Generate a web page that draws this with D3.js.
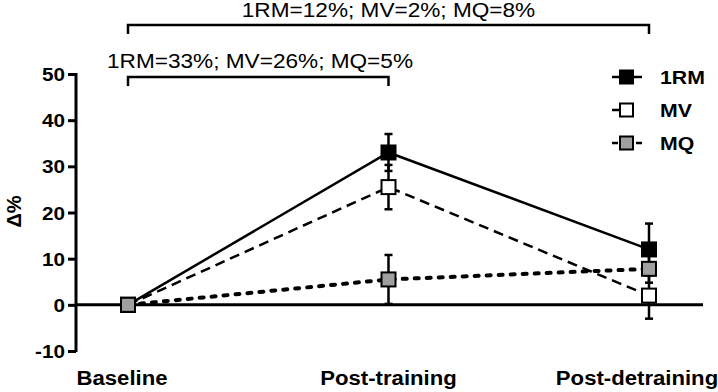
<!DOCTYPE html>
<html>
<head>
<meta charset="utf-8">
<script src="https://cdn.jsdelivr.net/npm/d3@7"></script>
<style>
  body { margin: 0; background: #fff; }
  text { font-family: "Liberation Sans", Arial, sans-serif; }
</style>
</head>
<body>
<div id="chart"></div>
<script>
/* DATA */
const timepoints = ["Baseline", "Post-training", "Post-detraining"];
const yTicks = [-10, 0, 10, 20, 30, 40, 50];
const rmMean = [0, 33, 12];
const rmSd = [0.5, 4, 5.6];
const mvMean = [0, 25.5, 2];
const mvSd = [0.5, 4.8, 5];
const mqMean = [0, 5.5, 7.8];
const mqSd = [0.8, 5.3, 3];
const bracketLabels = ["1RM=33%; MV=26%; MQ=5%", "1RM=12%; MV=2%; MQ=8%"];

const width = 718;
const height = 392;

const svg = d3.select("#chart")
    .append("svg")
    .attr("width", width)
    .attr("height", height);

// scales
const xScale = d3.scalePoint()
    .domain(timepoints)
    .range([128, 649]);

const yScale = d3.scaleLinear()
    .domain([-10, 50])
    .range([351, 74]);

// y axis
const axisX = 76;
const yAxis = d3.axisLeft(yScale).tickValues(yTicks).tickSize(8).tickPadding(3);
const gy = svg.append("g")
    .attr("transform", `translate(${axisX},0)`)
    .call(yAxis);
gy.select(".domain").attr("stroke-width", 3).attr("d", `M0,${yScale(50) - 1}V${yScale(-10) + 1}`);
gy.selectAll(".tick line").attr("stroke-width", 3);
// the original picture is stretched sideways a bit, so texts get a scaleX
gy.selectAll(".tick text").remove();
gy.selectAll(".tick").append("text")
    .attr("text-anchor", "end")
    .attr("fill", "#000")
    .style("font-size", "18px")
    .style("font-weight", "bold")
    .attr("transform", "translate(-11,6.5) scale(1.15,1)")
    .text(d => d);

// zero line
svg.append("line")
    .attr("x1", axisX).attr("x2", 703)
    .attr("y1", yScale(0)).attr("y2", yScale(0))
    .attr("stroke", "#000").attr("stroke-width", 3);

// y label
svg.append("text")
    .attr("transform", `translate(21,${yScale(20) - 1}) rotate(-90)`)
    .attr("text-anchor", "middle")
    .style("font-size", "20px")
    .style("font-weight", "bold")
    .text("Δ%");

// x labels
const xShift = [-6, 0, -12];
svg.selectAll(".xlab")
    .data(timepoints)
    .join("text")
    .attr("class", "xlab")
    .attr("text-anchor", "middle")
    .style("font-size", "20.5px")
    .style("font-weight", "bold")
    .attr("transform", (d, i) => `translate(${xScale(d) + xShift[i]},385) scale(1.08,1)`)
    .text(d => d);

// series
const series = [
    { name: "1RM", mean: rmMean, sd: rmSd, fill: "#000", dash: null, cap: "butt", w: 2.5 },
    { name: "MV", mean: mvMean, sd: mvSd, fill: "#fff", dash: "10,6", cap: "butt", w: 2.5 },
    { name: "MQ", mean: mqMean, sd: mqSd, fill: "#a0a0a0", dash: "4,8", cap: "round", w: 4 }
];

const line = d3.line()
    .x((d, i) => xScale(timepoints[i]))
    .y(d => yScale(d));

// error bars
series.forEach(s => {
    const g = svg.append("g");
    s.mean.forEach((m, i) => {
        const x = xScale(timepoints[i]);
        g.append("line")
            .attr("x1", x).attr("x2", x)
            .attr("y1", yScale(m - s.sd[i])).attr("y2", yScale(m + s.sd[i]))
            .attr("stroke", "#000").attr("stroke-width", 2.5);
        [m - s.sd[i], m + s.sd[i]].forEach(v => {
            g.append("line")
                .attr("x1", x - 4).attr("x2", x + 4)
                .attr("y1", yScale(v)).attr("y2", yScale(v))
                .attr("stroke", "#000").attr("stroke-width", 2.5);
        });
    });
});

// lines
series.forEach(s => {
    svg.append("path")
        .datum(s.mean)
        .attr("d", line)
        .attr("fill", "none")
        .attr("stroke", "#000")
        .attr("stroke-width", s.w)
        .attr("stroke-linecap", s.cap)
        .attr("stroke-dasharray", s.dash);
});

// markers (MV, 1RM, then MQ so the grey one sits on top at baseline)
[series[1], series[0], series[2]].forEach(s => {
    svg.selectAll(null)
        .data(s.mean)
        .join("rect")
        .attr("x", (d, i) => xScale(timepoints[i]) - 7)
        .attr("y", d => yScale(d) - 7)
        .attr("width", 14)
        .attr("height", 14)
        .attr("fill", s.fill)
        .attr("stroke", "#000")
        .attr("stroke-width", 2);
});

// brackets
const brackets = [
    { from: 0, to: 1, y: 77, ty: 68, label: bracketLabels[0] },
    { from: 0, to: 2, y: 25, ty: 17, label: bracketLabels[1] }
];
brackets.forEach(b => {
    const x1 = xScale(timepoints[b.from]);
    const x2 = xScale(timepoints[b.to]);
    svg.append("path")
        .attr("d", `M${x1},${b.y + 9}V${b.y}H${x2}V${b.y + 9}`)
        .attr("fill", "none")
        .attr("stroke", "#000")
        .attr("stroke-width", 2.5);
    const cx = b.from === 0 && b.to === 1 ? 260 : (x1 + x2) / 2;
    svg.append("text")
        .attr("text-anchor", "middle")
        .style("font-size", "19.5px")
        .attr("transform", `translate(${cx},${b.ty}) scale(1.16,1)`)
        .text(b.label);
});

// legend
const legendDash = { "1RM": null, "MV": "8,12,2,8", "MQ": "6,18,6" };
const legend = svg.append("g").attr("transform", "translate(612,77)");
series.forEach((s, i) => {
    const g = legend.append("g").attr("transform", `translate(0,${i * 33})`);
    g.append("line")
        .attr("x1", 0).attr("x2", 30).attr("y1", 0).attr("y2", 0)
        .attr("stroke", "#000").attr("stroke-width", 2.5)
        .attr("stroke-dasharray", legendDash[s.name]);
    g.append("rect")
        .attr("x", 8).attr("y", -6.5).attr("width", 13).attr("height", 13)
        .attr("fill", s.fill).attr("stroke", "#000").attr("stroke-width", 2);
    g.append("text")
        .style("font-size", "18.5px")
        .style("font-weight", "bold")
        .attr("transform", "translate(48,7) scale(1.15,1)")
        .text(s.name);
});
</script>
</body>
</html>
